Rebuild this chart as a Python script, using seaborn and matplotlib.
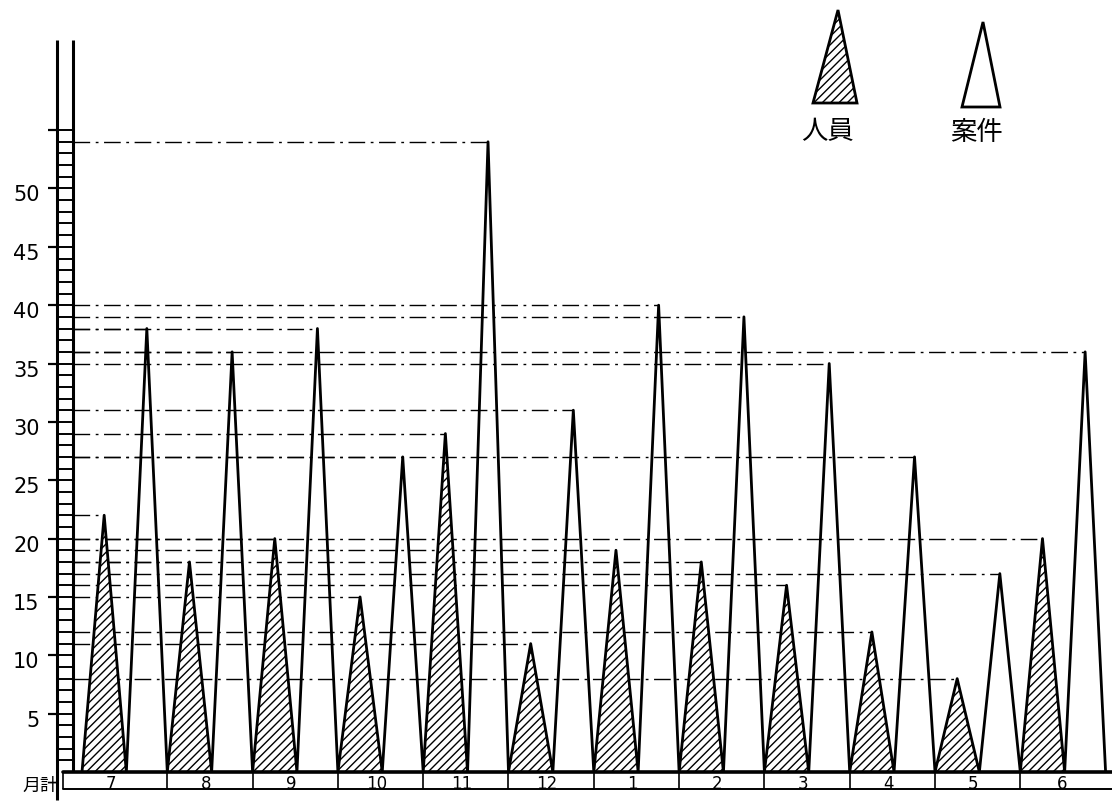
import numpy as np
import pandas as pd
import matplotlib
matplotlib.use('Agg')
import matplotlib.pyplot as plt
from matplotlib.patches import Polygon
from matplotlib.transforms import ScaledTranslation
import seaborn as sns

# Monthly counts (fiscal year starting in July)
months = ['7', '8', '9', '10', '11', '12', '1', '2', '3', '4', '5', '6']
staff = [22, 18, 20, 15, 29, 11, 19, 18, 16, 12, 8, 20]    # 人員 (hatched)
cases = [38, 36, 38, 27, 54, 31, 40, 39, 35, 27, 17, 36]   # 案件 (open)
y_ticks = [5, 10, 15, 20, 25, 30, 35, 40, 45, 50, 55]
y_tick_labels = ['5', '10', '15', '20', '25', '30', '35', '40', '45', '50', '']

sns.set_theme(style='white')
plt.rcParams['font.family'] = ['DejaVu Sans', 'Noto Sans CJK JP']
plt.rcParams['hatch.linewidth'] = 1.0
plt.rcParams['hatch.color'] = 'black'

SPLIT = 0.52          # share of a month taken by the hatched triangle
LADDER_L, LADDER_R = -0.293, -0.105
BOX_L, X_MAX = -0.223, 12.075
BOX_B = -1.45
DASHDOT = (0, (12, 4, 2, 4))

# zig-zag outline: base, staff apex, base, cases apex, base ...
rows = []
for i, (s, c) in enumerate(zip(staff, cases)):
    rows += [(i, 0), (i + SPLIT / 2, s), (i + SPLIT, 0), (i + (1 + SPLIT) / 2, c)]
rows.append((len(months), 0))
profile = pd.DataFrame(rows, columns=['x', 'y'])

W, H = 1112, 802
fig = plt.figure(figsize=(W / 100, H / 100), dpi=100)
ax = fig.add_axes([57 / W, 30 / H, 1 - 57 / W, 772 / H])
ax.set_xlim(LADDER_L, X_MAX)
ax.set_ylim(0, 66.15)
for sp in ax.spines.values():
    sp.set_visible(False)

# dash-dot guide lines from the scale to every apex
for i, (s, c) in enumerate(zip(staff, cases)):
    ax.plot([LADDER_R, i + SPLIT / 2], [s, s], color='black', lw=1.0, ls=DASHDOT, zorder=1)
    ax.plot([LADDER_R, i + (1 + SPLIT) / 2], [c, c], color='black', lw=1.0, ls=DASHDOT, zorder=1)

# hatched staff triangles
for i, s in enumerate(staff):
    ax.fill([i, i + SPLIT / 2, i + SPLIT], [0, s, 0], facecolor='white',
            edgecolor='black', hatch='////', lw=0, zorder=2)

sns.lineplot(data=profile, x='x', y='y', sort=False, estimator=None,
             color='black', lw=2.0, ax=ax, zorder=3)
ax.set_xlabel('')
ax.set_ylabel('')

# ladder-style scale
ax.hlines(np.arange(1, 56), LADDER_L, LADDER_R, color='black', lw=1.4, clip_on=False)
ax.vlines(LADDER_L, -2.4, 62.7, color='black', lw=2.2, clip_on=False)
ax.vlines(LADDER_R, 0, 62.7, color='black', lw=2.2, clip_on=False)
ax.set_yticks(y_ticks, y_tick_labels)
ax.tick_params(axis='y', left=True, direction='out', length=6.5, width=1.6,
               labelsize=15, pad=6, color='black', labelcolor='black')
for lab in ax.get_yticklabels():
    lab.set_transform(lab.get_transform() + ScaledTranslation(0, -0.05, fig.dpi_scale_trans))

# month boxes under the baseline
edges = [BOX_L] + list(range(1, len(months))) + [X_MAX]
centers = [(a + b) / 2 - 0.05 for a, b in zip(edges[:-1], edges[1:])]
ax.set_xticks(centers, months)
ax.tick_params(axis='x', bottom=False, length=0, pad=2, labelsize=12, labelcolor='black')
ax.plot([BOX_L, X_MAX], [0, 0], color='black', lw=2.6, clip_on=False, zorder=4)
ax.plot([BOX_L, X_MAX], [BOX_B, BOX_B], color='black', lw=1.4, clip_on=False)
ax.vlines(edges[:-1], BOX_B, 0, color='black', lw=1.2, clip_on=False)
ax.text(-0.49, -1.2, '月計', ha='center', va='center', fontsize=13,
        family=['Noto Sans CJK JP'], color='black')

# legend
lax = fig.add_axes([800 / W, 1 - 150 / H, 220 / W, 150 / H])
lax.set_xlim(0, 220)
lax.set_ylim(150, 0)
lax.axis('off')
lax.add_patch(Polygon([[13, 103], [38, 10], [57, 103]], closed=True, facecolor='white',
                      edgecolor='black', hatch='////', lw=2))
lax.add_patch(Polygon([[162, 107], [183, 22], [200, 107]], closed=True, facecolor='white',
                      edgecolor='black', lw=2))
lax.text(28, 132, '人員', ha='center', va='center', fontsize=19,
         family=['Noto Sans CJK JP'], color='black')
lax.text(176, 132, '案件', ha='center', va='center', fontsize=19,
         family=['Noto Sans CJK JP'], color='black')

fig.savefig('out.png', dpi=100)
